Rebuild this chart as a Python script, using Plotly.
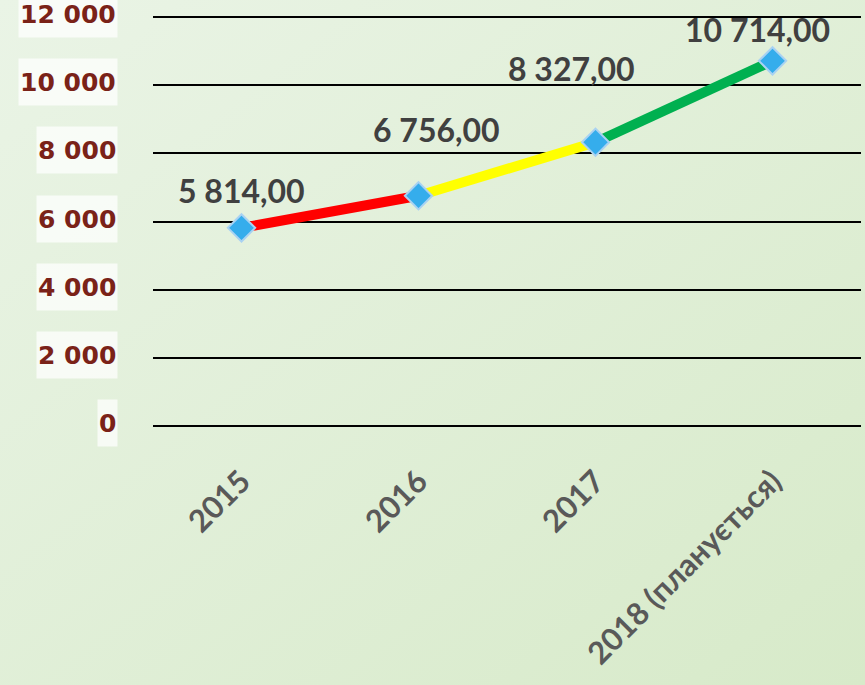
import plotly.graph_objects as go

# ---- data ----
categories = ["2015", "2016", "2017", "2018 (планується)"]
values = [5814, 6756, 8327, 10714]
segment_colors = ["#FF0000", "#FFFF00", "#00B050"]
y_tick_values = [0, 2000, 4000, 6000, 8000, 10000, 12000]
y_tick_labels = ["0", "2 000", "4 000", "6 000", "8 000", "10 000", "12 000"]

# label offsets (style, pixels)
label_dx = [0, 18, -24, -15]
label_dy = [37, 66, 74, 31]

W, H = 865, 685
ML, MR, MT, MB = 153, 4, 15, 259
Y_TOP = 12060
pw, ph = W - ML - MR, H - MT - MB


def fmt(v):
    return f"{v:,.2f}".replace(",", " ").replace(".", ",")


fig = go.Figure()

# coloured segments
for i in range(len(values) - 1):
    fig.add_trace(go.Scatter(
        x=[categories[i], categories[i + 1]], y=[values[i], values[i + 1]],
        mode="lines", line=dict(color=segment_colors[i], width=10),
        showlegend=False, hoverinfo="skip"))

# markers
fig.add_trace(go.Scatter(
    x=categories, y=values, mode="markers",
    marker=dict(symbol="diamond", size=21, color="#35ADEC",
                line=dict(color="#A9D2F2", width=2)),
    showlegend=False))

annotations = []
for i, (v, dx, dy) in enumerate(zip(values, label_dx, label_dy)):
    annotations.append(dict(
        x=i, y=v, xref="x", yref="y", text=fmt(v), showarrow=False,
        xanchor="center", yanchor="middle", xshift=dx, yshift=dy,
        font=dict(family="Lato", size=32, color="#404040", weight="bold")))

for tv, tl in zip(y_tick_values, y_tick_labels):
    annotations.append(dict(
        x=0, y=tv, xref="paper", yref="y", text=tl, showarrow=False,
        xanchor="right", yanchor="middle", xshift=-35, yshift=3,
        bgcolor="rgba(255,255,255,0.72)", borderpad=1, height=44,
        font=dict(family="DejaVu Sans", size=25, color="#7A2218", weight="bold")))

svg = (
    "data:image/svg+xml;utf8,"
    "<svg xmlns='http://www.w3.org/2000/svg' width='865' height='685'>"
    "<defs><linearGradient id='g' x1='0' y1='0' x2='1' y2='1'>"
    "<stop offset='0' stop-color='%23EAF4E6'/>"
    "<stop offset='1' stop-color='%23D7EAC9'/>"
    "</linearGradient></defs>"
    "<rect width='865' height='685' fill='url(%23g)'/></svg>"
)

fig.update_layout(
    width=W, height=H,
    margin=dict(l=ML, r=MR, t=MT, b=MB, pad=0),
    paper_bgcolor="#E0EFD8", plot_bgcolor="rgba(0,0,0,0)",
    images=[dict(source=svg, xref="paper", yref="paper",
                 x=-ML / pw, y=1 + MT / ph, sizex=W / pw, sizey=H / ph,
                 xanchor="left", yanchor="top", sizing="stretch",
                 layer="below")],
    annotations=annotations,
    xaxis=dict(type="category", range=[-0.5, 3.5], showgrid=False,
               zeroline=False, showline=False, ticks="", automargin=False,
               tickangle=-45, ticklabelstandoff=30,
               tickfont=dict(family="Lato", size=31, color="#595959", weight="bold")),
    yaxis=dict(range=[0, Y_TOP], tickvals=y_tick_values, showticklabels=False,
               showgrid=True, gridcolor="#000000", gridwidth=2,
               zeroline=True, zerolinecolor="#000000", zerolinewidth=2,
               showline=False, ticks="", automargin=False),
)

fig.write_html("out.html", config={"displayModeBar": False},
               post_script="document.body.style.margin='0';document.body.style.overflow='hidden';")
